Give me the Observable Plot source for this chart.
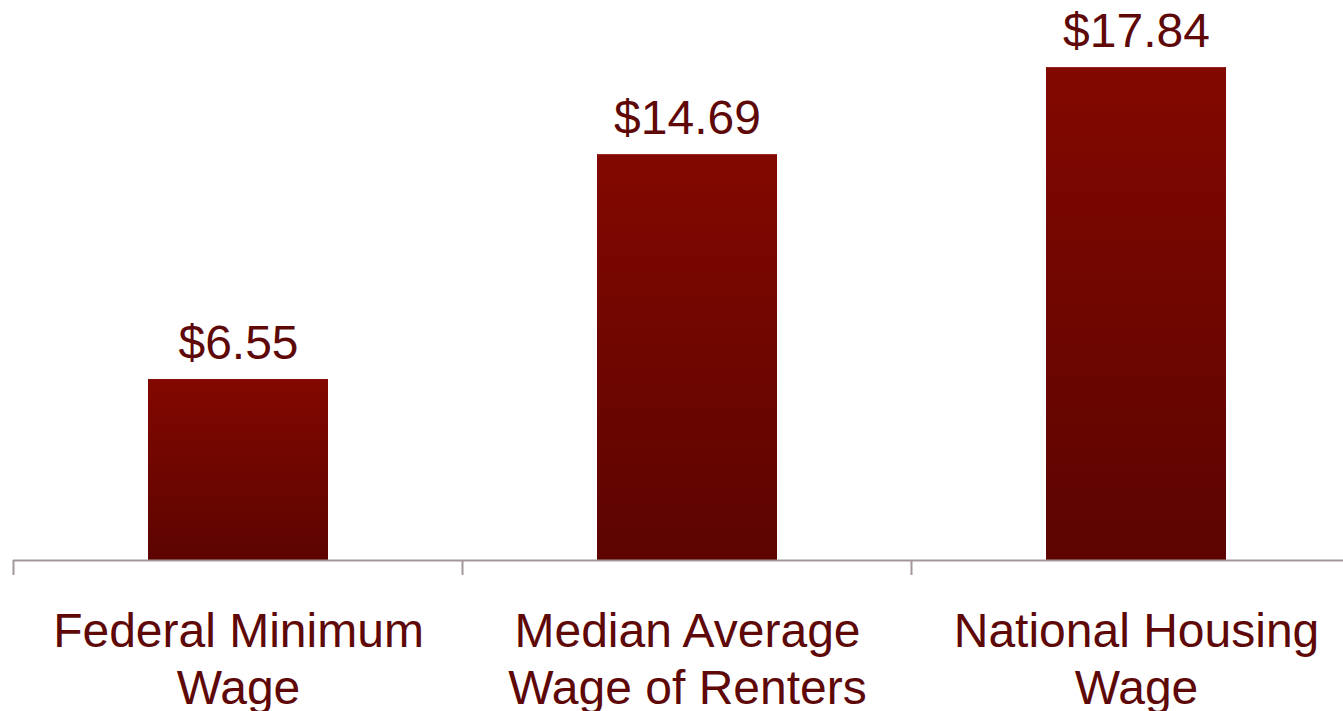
<!DOCTYPE html>
<html>
<head>
<meta charset="utf-8">
<script src="https://cdn.jsdelivr.net/npm/d3@7"></script>
<script src="https://cdn.jsdelivr.net/npm/@observablehq/plot@0.6"></script>
<style>
  html, body { margin: 0; padding: 0; background: #ffffff; }
  #chart { width: 1343px; height: 711px; overflow: hidden; }
</style>
</head>
<body>
<div id="chart"></div>
<script>
const categories = ["Federal Minimum\nWage", "Median Average\nWage of Renters", "National Housing\nWage"];
const values = [6.55, 14.69, 17.84];
const valueLabels = ["$6.55", "$14.69", "$17.84"];

const data = categories.map((c, i) => ({category: c, value: values[i], label: valueLabels[i]}));

const textColor = "#5e0808";
const axisColor = "#a39799";

const defs = () => {
  const ns = "http://www.w3.org/2000/svg";
  const d = document.createElementNS(ns, "defs");
  d.innerHTML = `
    <linearGradient id="barGrad" x1="0" y1="0" x2="0" y2="1">
      <stop offset="0" stop-color="#820800"/>
      <stop offset="1" stop-color="#5c0400"/>
    </linearGradient>
    <filter id="shadow" x="-10%" y="-10%" width="120%" height="120%">
      <feDropShadow dx="0" dy="3" stdDeviation="3" flood-color="#000" flood-opacity="0.35"/>
    </filter>`;
  return d;
};

// Tick marks at band boundaries, derived from the x scale
const boundaryTicks = (index, scales, values, dims) => {
  const ns = "http://www.w3.org/2000/svg";
  const g = document.createElementNS(ns, "g");
  const x = scales.x;
  const y0 = scales.y(0);
  const step = x.step ? x.step() : x.bandwidth();
  const positions = categories.map(c => x(c) - (step - x.bandwidth()) / 2);
  for (const px of positions) {
    const l = document.createElementNS(ns, "line");
    l.setAttribute("x1", px); l.setAttribute("x2", px);
    l.setAttribute("y1", y0); l.setAttribute("y2", y0 + 15);
    l.setAttribute("stroke", axisColor);
    l.setAttribute("stroke-width", 2);
    g.appendChild(l);
  }
  return g;
};

const chart = Plot.plot({
  width: 1343,
  height: 711,
  marginLeft: 13,
  marginRight: 0,
  marginTop: 0,
  marginBottom: 151,
  style: {fontFamily: "'Liberation Sans', Arial, sans-serif", background: "#ffffff"},
  x: {domain: categories, range: [13, 1360], paddingInner: 0.6, paddingOuter: 0.3, align: 0.5, axis: null},
  y: {domain: [0, 20.27], axis: null},
  marks: [
    defs,
    Plot.barY(data, {x: "category", y: "value", fill: "url(#barGrad)", style: "filter:url(#shadow)"}),
    Plot.ruleY([0], {stroke: axisColor, strokeWidth: 2}),
    boundaryTicks,
    Plot.text(data, {x: "category", y: "value", text: "label", dy: -21, lineAnchor: "bottom", fill: textColor, fontSize: 48}),
    Plot.axisX({tickSize: 0, tickPadding: 47, fontSize: 48, fill: textColor, lineHeight: 1.17, label: null})
  ]
});
document.getElementById("chart").appendChild(chart);
</script>
</body>
</html>
